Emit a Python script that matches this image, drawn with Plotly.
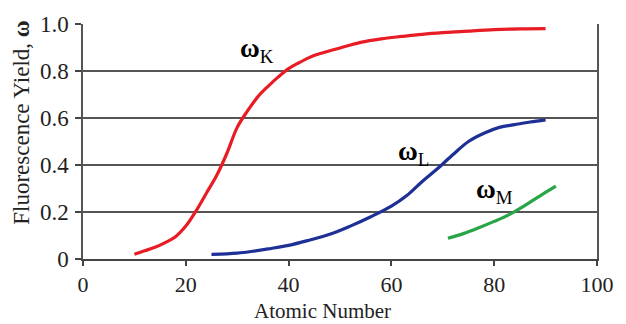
import plotly.graph_objects as go

# Fluorescence yield vs atomic number for K, L and M shells
z_k = [10, 12, 14, 16, 18, 20, 22, 24, 26, 28, 30, 32, 34, 36, 38, 40, 42, 44,
       46, 48, 50, 54, 58, 62, 66, 70, 75, 80, 85, 90]
w_k = [0.02, 0.035, 0.05, 0.07, 0.095, 0.14, 0.205, 0.28, 0.355, 0.45, 0.56,
       0.63, 0.69, 0.735, 0.775, 0.81, 0.835, 0.857, 0.873, 0.886, 0.898,
       0.922, 0.937, 0.947, 0.956, 0.963, 0.97, 0.976, 0.979, 0.98]

z_l = [25, 28, 30, 33, 36, 40, 44, 48, 52, 56, 60, 63, 66, 69, 72, 75, 78, 81,
       84, 87, 90]
w_l = [0.02, 0.022, 0.025, 0.033, 0.043, 0.058, 0.08, 0.105, 0.14, 0.18,
       0.225, 0.27, 0.33, 0.385, 0.445, 0.50, 0.535, 0.56, 0.572, 0.583, 0.592]

z_m = [71, 74, 77, 80, 83, 86, 89, 92]
w_m = [0.088, 0.108, 0.133, 0.16, 0.19, 0.228, 0.27, 0.31]

x_ticks = [0, 20, 40, 60, 80, 100]
y_ticks = [0, 0.2, 0.4, 0.6, 0.8, 1.0]
y_tick_text = ["0", "0.2", "0.4", "0.6", "0.8", "1.0"]

FONT = "Liberation Serif"

fig = go.Figure()
fig.add_trace(go.Scatter(x=z_k, y=w_k, mode="lines",
                         line=dict(color="rgb(232,28,36)", width=3.2, shape="spline")))
fig.add_trace(go.Scatter(x=z_l, y=w_l, mode="lines",
                         line=dict(color="rgb(30,48,150)", width=3.2, shape="spline")))
fig.add_trace(go.Scatter(x=z_m, y=w_m, mode="lines",
                         line=dict(color="rgb(40,165,70)", width=3.2, shape="spline")))

def curve_label(x, y, sub):
    fig.add_annotation(x=x, y=y, xref="x", yref="y", showarrow=False,
                       xanchor="left", yanchor="middle",
                       text="<b>ω</b><sub>%s</sub>" % sub,
                       font=dict(family=FONT, size=27, color="black"))

curve_label(30.2, 0.89, "K")
curve_label(60.8, 0.45, "L")
curve_label(76.0, 0.29, "M")

# axis titles
fig.add_annotation(x=0.466, y=-0.222, xref="paper", yref="paper", showarrow=False,
                   xanchor="center", yanchor="middle", text="Atomic Number",
                   font=dict(family=FONT, size=21, color="#222"))
fig.add_annotation(x=-0.119, y=0.579, xref="paper", yref="paper", showarrow=False,
                   xanchor="center", yanchor="middle", textangle=-90,
                   text="Fluorescence Yield, <b>ω</b>",
                   font=dict(family=FONT, size=23, color="#222"))

fig.update_layout(
    width=626, height=324,
    margin=dict(l=83, r=22, t=24, b=65),
    paper_bgcolor="white", plot_bgcolor="white",
    showlegend=False,
    font=dict(family=FONT, size=23, color="#222"),
)
fig.update_xaxes(range=[0, 100], tickvals=x_ticks, ticks="outside", ticklen=5,
                 tickcolor="#444", tickwidth=1.5, tickfont=dict(size=22),
                 showline=True, linecolor="#444", linewidth=1.5,
                 showgrid=False, zeroline=False, ticklabelstandoff=0)
fig.update_yaxes(range=[0, 1.0], tickvals=y_ticks, ticktext=y_tick_text,
                 ticks="outside", ticklen=6, tickcolor="#444", tickwidth=1.5,
                 showline=True, mirror=True, linecolor="#555", linewidth=1.5,
                 showgrid=True, gridcolor="#555", gridwidth=1.5,
                 zeroline=False, ticklabelstandoff=2)

fig.write_html("out.html")
